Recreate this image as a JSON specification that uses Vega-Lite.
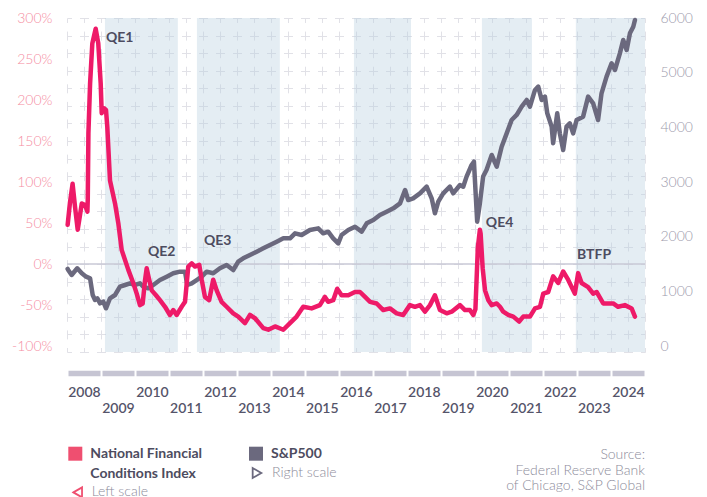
{
  "$schema": "https://vega.github.io/schema/vega-lite/v6.json",
  "width": 578,
  "height": 334,
  "autosize": {"type": "none"},
  "padding": {"left": 67, "top": 18, "right": 62, "bottom": 145},
  "background": "#ffffff",
  "config": {
    "view": {"stroke": null},
    "font": "Lato",
    "legend": {"padding": 0, "labelFont": "Lato", "labelFontSize": 14, "symbolOpacity": 1, "labelLimit": 300}
  },
  "title": {
    "text": ["Source:", "Federal Reserve Bank", "of Chicago, S&P Global"],
    "orient": "top", "anchor": "end", "frame": "group", "align": "right", "baseline": "top",
    "offset": -482, "font": "Lato", "fontSize": 14, "fontWeight": 300,
    "color": "#8c8b9a", "lineHeight": 15.3
  },
  "datasets": {
    "qe": [
      {"start": "2009-02-12", "end": "2011-04-06"},
      {"start": "2011-10-28", "end": "2014-04-06"},
      {"start": "2016-06-10", "end": "2018-02-13"},
      {"start": "2020-03-16", "end": "2021-09-04"},
      {"start": "2022-12-20", "end": "2025-01-01"}
    ],
    "notes": [
      {"date": "2009-02-23", "v": 276, "label": "QE1"},
      {"date": "2010-05-20", "v": 15, "label": "QE2"},
      {"date": "2012-01-11", "v": 28.5, "label": "QE3"},
      {"date": "2020-04-27", "v": 49.7, "label": "QE4"},
      {"date": "2023-01-01", "v": 11, "label": "BTFP"}
    ],
    "nfci": [
      {"date": "2008-01-08", "v": 48}, {"date": "2008-02-02", "v": 75}, {"date": "2008-03-01", "v": 98},
      {"date": "2008-03-27", "v": 70}, {"date": "2008-04-25", "v": 42}, {"date": "2008-05-20", "v": 60},
      {"date": "2008-06-08", "v": 74}, {"date": "2008-07-13", "v": 72}, {"date": "2008-08-07", "v": 64},
      {"date": "2008-08-11", "v": 78}, {"date": "2008-08-18", "v": 159}, {"date": "2008-09-05", "v": 220},
      {"date": "2008-09-29", "v": 269}, {"date": "2008-11-04", "v": 287}, {"date": "2008-12-02", "v": 269},
      {"date": "2008-12-28", "v": 220}, {"date": "2009-01-08", "v": 184}, {"date": "2009-02-02", "v": 190},
      {"date": "2009-02-23", "v": 188}, {"date": "2009-03-09", "v": 167}, {"date": "2009-04-07", "v": 102},
      {"date": "2009-05-31", "v": 74}, {"date": "2009-07-05", "v": 50}, {"date": "2009-08-11", "v": 17},
      {"date": "2009-10-21", "v": -7}, {"date": "2009-12-13", "v": -23}, {"date": "2010-01-19", "v": -36},
      {"date": "2010-02-23", "v": -50}, {"date": "2010-03-24", "v": -48}, {"date": "2010-04-18", "v": -20},
      {"date": "2010-05-06", "v": -5}, {"date": "2010-05-25", "v": -15}, {"date": "2010-06-29", "v": -32},
      {"date": "2010-08-14", "v": -38}, {"date": "2010-09-26", "v": -44}, {"date": "2010-11-19", "v": -52},
      {"date": "2011-01-11", "v": -62}, {"date": "2011-02-16", "v": -56}, {"date": "2011-03-24", "v": -62},
      {"date": "2011-05-17", "v": -52}, {"date": "2011-06-22", "v": -46}, {"date": "2011-07-27", "v": -3},
      {"date": "2011-09-02", "v": 1}, {"date": "2011-10-07", "v": -3}, {"date": "2011-11-22", "v": -1},
      {"date": "2011-12-18", "v": -19}, {"date": "2012-01-22", "v": -40}, {"date": "2012-03-07", "v": -44},
      {"date": "2012-04-20", "v": -19}, {"date": "2012-05-27", "v": -32}, {"date": "2012-07-19", "v": -46},
      {"date": "2012-09-11", "v": -52}, {"date": "2012-11-21", "v": -60}, {"date": "2013-01-14", "v": -64},
      {"date": "2013-03-27", "v": -72}, {"date": "2013-05-20", "v": -62}, {"date": "2013-07-13", "v": -66},
      {"date": "2013-10-10", "v": -78}, {"date": "2013-12-03", "v": -80}, {"date": "2014-02-13", "v": -76},
      {"date": "2014-05-13", "v": -80}, {"date": "2014-07-24", "v": -72}, {"date": "2014-10-03", "v": -64},
      {"date": "2014-12-13", "v": -52}, {"date": "2015-03-13", "v": -54}, {"date": "2015-06-10", "v": -50},
      {"date": "2015-08-03", "v": -40}, {"date": "2015-09-07", "v": -46}, {"date": "2015-10-31", "v": -44},
      {"date": "2015-12-13", "v": -30}, {"date": "2016-01-29", "v": -38}, {"date": "2016-04-10", "v": -38},
      {"date": "2016-06-21", "v": -34}, {"date": "2016-08-14", "v": -34}, {"date": "2016-10-07", "v": -40},
      {"date": "2016-11-30", "v": -46}, {"date": "2017-02-09", "v": -48}, {"date": "2017-04-21", "v": -56},
      {"date": "2017-07-02", "v": -54}, {"date": "2017-09-12", "v": -60}, {"date": "2017-11-21", "v": -62},
      {"date": "2018-02-01", "v": -50}, {"date": "2018-03-27", "v": -52}, {"date": "2018-05-20", "v": -50},
      {"date": "2018-07-13", "v": -58}, {"date": "2018-09-05", "v": -50}, {"date": "2018-10-28", "v": -38},
      {"date": "2018-12-21", "v": -56}, {"date": "2019-03-03", "v": -60}, {"date": "2019-04-26", "v": -58},
      {"date": "2019-07-24", "v": -50}, {"date": "2019-09-16", "v": -56}, {"date": "2019-11-08", "v": -56},
      {"date": "2019-12-14", "v": -62}, {"date": "2020-01-06", "v": -55}, {"date": "2020-02-01", "v": 20},
      {"date": "2020-02-23", "v": 42}, {"date": "2020-03-02", "v": 37}, {"date": "2020-03-24", "v": -5},
      {"date": "2020-04-18", "v": -32}, {"date": "2020-05-24", "v": -44}, {"date": "2020-06-29", "v": -50},
      {"date": "2020-08-22", "v": -48}, {"date": "2020-09-26", "v": -52}, {"date": "2020-10-31", "v": -58},
      {"date": "2020-12-24", "v": -62}, {"date": "2021-02-16", "v": -64}, {"date": "2021-04-20", "v": -70},
      {"date": "2021-06-03", "v": -64}, {"date": "2021-08-14", "v": -64}, {"date": "2021-10-07", "v": -54},
      {"date": "2021-11-30", "v": -52}, {"date": "2022-01-04", "v": -36}, {"date": "2022-02-26", "v": -34},
      {"date": "2022-04-20", "v": -15}, {"date": "2022-06-13", "v": -23}, {"date": "2022-08-06", "v": -9},
      {"date": "2022-09-28", "v": -19}, {"date": "2022-12-09", "v": -36}, {"date": "2023-01-14", "v": -11},
      {"date": "2023-02-20", "v": -23}, {"date": "2023-05-01", "v": -28}, {"date": "2023-06-24", "v": -36},
      {"date": "2023-07-31", "v": -34}, {"date": "2023-10-10", "v": -48}, {"date": "2024-01-25", "v": -48},
      {"date": "2024-03-18", "v": -52}, {"date": "2024-05-30", "v": -50}, {"date": "2024-08-10", "v": -54},
      {"date": "2024-09-15", "v": -64}
    ],
    "sp": [
      {"date": "2008-01-08", "v": 1411}, {"date": "2008-01-14", "v": 1393}, {"date": "2008-02-20", "v": 1301},
      {"date": "2008-04-20", "v": 1423}, {"date": "2008-06-08", "v": 1332}, {"date": "2008-07-24", "v": 1270},
      {"date": "2008-09-05", "v": 1240}, {"date": "2008-10-03", "v": 935}, {"date": "2008-10-28", "v": 844},
      {"date": "2008-11-22", "v": 875}, {"date": "2008-12-21", "v": 783}, {"date": "2009-01-25", "v": 813},
      {"date": "2009-02-23", "v": 692}, {"date": "2009-04-07", "v": 875}, {"date": "2009-05-31", "v": 935},
      {"date": "2009-07-23", "v": 1087}, {"date": "2009-09-15", "v": 1118}, {"date": "2009-11-08", "v": 1149},
      {"date": "2010-01-01", "v": 1118}, {"date": "2010-02-23", "v": 1149}, {"date": "2010-03-30", "v": 1087},
      {"date": "2010-05-23", "v": 1057}, {"date": "2010-07-16", "v": 1118}, {"date": "2010-09-26", "v": 1209},
      {"date": "2010-12-07", "v": 1270}, {"date": "2011-02-16", "v": 1332}, {"date": "2011-04-28", "v": 1362},
      {"date": "2011-06-22", "v": 1362}, {"date": "2011-07-16", "v": 1118}, {"date": "2011-09-02", "v": 1149},
      {"date": "2011-10-25", "v": 1209}, {"date": "2011-12-18", "v": 1270}, {"date": "2012-02-09", "v": 1362},
      {"date": "2012-04-20", "v": 1332}, {"date": "2012-07-01", "v": 1423}, {"date": "2012-09-11", "v": 1484},
      {"date": "2012-11-21", "v": 1392}, {"date": "2013-01-14", "v": 1545}, {"date": "2013-03-08", "v": 1606},
      {"date": "2013-05-20", "v": 1667}, {"date": "2013-07-31", "v": 1727}, {"date": "2013-10-10", "v": 1788},
      {"date": "2013-12-21", "v": 1849}, {"date": "2014-03-03", "v": 1910}, {"date": "2014-05-13", "v": 1971},
      {"date": "2014-07-24", "v": 1971}, {"date": "2014-09-16", "v": 2063}, {"date": "2014-11-26", "v": 2032},
      {"date": "2015-02-23", "v": 2124}, {"date": "2015-05-23", "v": 2154}, {"date": "2015-07-16", "v": 2063},
      {"date": "2015-09-07", "v": 2093}, {"date": "2015-10-31", "v": 1971}, {"date": "2015-12-24", "v": 1880},
      {"date": "2016-01-29", "v": 2032}, {"date": "2016-04-10", "v": 2124}, {"date": "2016-06-21", "v": 2184},
      {"date": "2016-09-01", "v": 2093}, {"date": "2016-10-25", "v": 2246}, {"date": "2017-01-04", "v": 2306},
      {"date": "2017-03-16", "v": 2398}, {"date": "2017-05-27", "v": 2459}, {"date": "2017-08-07", "v": 2520},
      {"date": "2017-10-18", "v": 2611}, {"date": "2017-12-11", "v": 2855}, {"date": "2018-01-14", "v": 2672},
      {"date": "2018-03-08", "v": 2703}, {"date": "2018-05-20", "v": 2794}, {"date": "2018-07-31", "v": 2916},
      {"date": "2018-09-23", "v": 2703}, {"date": "2018-10-28", "v": 2429}, {"date": "2018-12-03", "v": 2641},
      {"date": "2019-01-25", "v": 2794}, {"date": "2019-04-07", "v": 2916}, {"date": "2019-05-12", "v": 2794},
      {"date": "2019-07-24", "v": 2947}, {"date": "2019-08-28", "v": 2916}, {"date": "2019-10-03", "v": 3099},
      {"date": "2019-11-26", "v": 3312}, {"date": "2019-12-21", "v": 3373}, {"date": "2020-01-25", "v": 2276},
      {"date": "2020-02-23", "v": 2611}, {"date": "2020-03-29", "v": 3100}, {"date": "2020-05-04", "v": 3221},
      {"date": "2020-06-29", "v": 3495}, {"date": "2020-08-22", "v": 3282}, {"date": "2020-10-14", "v": 3647},
      {"date": "2020-12-07", "v": 3891}, {"date": "2021-01-29", "v": 4135}, {"date": "2021-03-24", "v": 4227},
      {"date": "2021-05-17", "v": 4379}, {"date": "2021-07-10", "v": 4501}, {"date": "2021-08-14", "v": 4379},
      {"date": "2021-10-07", "v": 4684}, {"date": "2021-11-11", "v": 4745}, {"date": "2021-12-18", "v": 4501},
      {"date": "2022-01-22", "v": 4562}, {"date": "2022-02-16", "v": 4257}, {"date": "2022-04-04", "v": 4013},
      {"date": "2022-04-20", "v": 3709}, {"date": "2022-06-03", "v": 4257}, {"date": "2022-07-01", "v": 3891},
      {"date": "2022-08-06", "v": 3586}, {"date": "2022-09-11", "v": 4013}, {"date": "2022-10-16", "v": 4074},
      {"date": "2022-11-21", "v": 3891}, {"date": "2022-12-28", "v": 4135}, {"date": "2023-03-08", "v": 4196},
      {"date": "2023-05-01", "v": 4562}, {"date": "2023-06-24", "v": 4440}, {"date": "2023-08-16", "v": 4135},
      {"date": "2023-09-22", "v": 4623}, {"date": "2023-11-15", "v": 4928}, {"date": "2024-01-08", "v": 5171},
      {"date": "2024-02-13", "v": 5049}, {"date": "2024-04-06", "v": 5354}, {"date": "2024-05-12", "v": 5597},
      {"date": "2024-06-18", "v": 5415}, {"date": "2024-07-23", "v": 5720}, {"date": "2024-08-28", "v": 5841},
      {"date": "2024-09-15", "v": 5963}
    ]
  },
  "layer": [
    {
      "data": {"name": "qe"},
      "mark": {"type": "rect", "color": "#b9cfdf", "opacity": 0.38},
      "encoding": {
        "x": {
          "field": "start", "type": "temporal",
          "scale": {"domain": [{"year": 2008, "month": 1, "date": 1, "utc": true}, {"year": 2025, "month": 1, "date": 1, "utc": true}]},
          "axis": {
            "orient": "bottom", "title": null,
            "values": [
              {"year": 2008, "month": 1, "date": 1, "utc": true}, {"year": 2008, "month": 7, "date": 1, "utc": true},
              {"year": 2009, "month": 1, "date": 1, "utc": true}, {"year": 2009, "month": 7, "date": 1, "utc": true},
              {"year": 2010, "month": 1, "date": 1, "utc": true}, {"year": 2010, "month": 7, "date": 1, "utc": true},
              {"year": 2011, "month": 1, "date": 1, "utc": true}, {"year": 2011, "month": 7, "date": 1, "utc": true},
              {"year": 2012, "month": 1, "date": 1, "utc": true}, {"year": 2012, "month": 7, "date": 1, "utc": true},
              {"year": 2013, "month": 1, "date": 1, "utc": true}, {"year": 2013, "month": 7, "date": 1, "utc": true},
              {"year": 2014, "month": 1, "date": 1, "utc": true}, {"year": 2014, "month": 7, "date": 1, "utc": true},
              {"year": 2015, "month": 1, "date": 1, "utc": true}, {"year": 2015, "month": 7, "date": 1, "utc": true},
              {"year": 2016, "month": 1, "date": 1, "utc": true}, {"year": 2016, "month": 7, "date": 1, "utc": true},
              {"year": 2017, "month": 1, "date": 1, "utc": true}, {"year": 2017, "month": 7, "date": 1, "utc": true},
              {"year": 2018, "month": 1, "date": 1, "utc": true}, {"year": 2018, "month": 7, "date": 1, "utc": true},
              {"year": 2019, "month": 1, "date": 1, "utc": true}, {"year": 2019, "month": 7, "date": 1, "utc": true},
              {"year": 2020, "month": 1, "date": 1, "utc": true}, {"year": 2020, "month": 7, "date": 1, "utc": true},
              {"year": 2021, "month": 1, "date": 1, "utc": true}, {"year": 2021, "month": 7, "date": 1, "utc": true},
              {"year": 2022, "month": 1, "date": 1, "utc": true}, {"year": 2022, "month": 7, "date": 1, "utc": true},
              {"year": 2023, "month": 1, "date": 1, "utc": true}, {"year": 2023, "month": 7, "date": 1, "utc": true},
              {"year": 2024, "month": 1, "date": 1, "utc": true}, {"year": 2024, "month": 7, "date": 1, "utc": true},
              {"year": 2025, "month": 1, "date": 1, "utc": true}
            ],
            "labels": false, "ticks": false,
            "domain": true, "domainColor": "#c6c5d3", "domainWidth": 5.5, "domainDash": [32, 2], "domainDashOffset": 33,
            "offset": 21,
            "grid": true, "gridColor": "#e1e1e7", "gridWidth": 1, "gridDash": [9, 8.579], "gridDashOffset": 4.5
          }
        },
        "x2": {"field": "end"}
      }
    },
    {
      "data": {"values": [{"v": 0}]},
      "mark": {"type": "rule", "color": "#c9c8d6", "strokeWidth": 1.5},
      "encoding": {
        "y": {
          "field": "v", "type": "quantitative",
          "scale": {"domain": [-107.142857, 300], "nice": false, "zero": false},
          "axis": {
            "orient": "left", "title": null,
            "values": [-100, -50, 0, 50, 100, 150, 200, 250, 300],
            "labelExpr": "datum.value + '%'",
            "grid": false, "ticks": false, "domain": false,
            "labelColor": "#f58da2", "labelFont": "Lato", "labelFontSize": 14, "labelFontWeight": 300, "labelPadding": 15
          }
        }
      }
    },
    {
      "data": {"name": "sp"},
      "mark": {"type": "line", "color": "#6b697e", "strokeWidth": 4.5, "strokeJoin": "round", "strokeCap": "round"},
      "encoding": {
        "x": {"field": "date", "type": "temporal", "axis": null},
        "y": {
          "field": "v", "type": "quantitative",
          "scale": {"domain": [-107.142857, 6000], "nice": false, "zero": false},
          "axis": {
            "orient": "right", "title": null,
            "values": [0, 1000, 2000, 3000, 4000, 5000, 6000],
            "format": "d",
            "grid": false, "ticks": false, "domain": false,
            "labelColor": "#9c9aac", "labelFont": "Lato", "labelFontSize": 14, "labelFontWeight": 300, "labelPadding": 15
          }
        }
      }
    },
    {
      "data": {"name": "nfci"},
      "mark": {"type": "line", "color": "#ee1a68", "strokeWidth": 4.5, "strokeJoin": "round", "strokeCap": "round"},
      "encoding": {
        "x": {
          "field": "date", "type": "temporal",
          "axis": {
            "orient": "bottom", "title": null,
            "values": [
              {"year": 2008, "month": 7, "date": 1, "utc": true}, {"year": 2009, "month": 7, "date": 1, "utc": true},
              {"year": 2010, "month": 7, "date": 1, "utc": true}, {"year": 2011, "month": 7, "date": 1, "utc": true},
              {"year": 2012, "month": 7, "date": 1, "utc": true}, {"year": 2013, "month": 7, "date": 1, "utc": true},
              {"year": 2014, "month": 7, "date": 1, "utc": true}, {"year": 2015, "month": 7, "date": 1, "utc": true},
              {"year": 2016, "month": 7, "date": 1, "utc": true}, {"year": 2017, "month": 7, "date": 1, "utc": true},
              {"year": 2018, "month": 7, "date": 1, "utc": true}, {"year": 2019, "month": 7, "date": 1, "utc": true},
              {"year": 2020, "month": 7, "date": 1, "utc": true}, {"year": 2021, "month": 7, "date": 1, "utc": true},
              {"year": 2022, "month": 7, "date": 1, "utc": true}, {"year": 2023, "month": 7, "date": 1, "utc": true},
              {"year": 2024, "month": 7, "date": 1, "utc": true}
            ],
            "format": "%Y",
            "labelOverlap": false, "labelFlush": false,
            "labelFont": "Lato", "labelFontSize": 14, "labelFontWeight": 600, "labelColor": "#55546a",
            "labelPadding": {"condition": {"test": "year(datum.value) % 2 == 1", "value": 28}, "value": 12},
            "ticks": false, "domain": false, "grid": false,
            "offset": 21
          }
        },
        "y": {
          "field": "v", "type": "quantitative",
          "scale": {"domain": [-107.142857, 300], "nice": false, "zero": false},
          "axis": {
            "orient": "left", "title": null,
            "values": [300, 278.5714, 257.1429, 235.7143, 214.2857, 192.8571, 171.4286, 150, 128.5714, 107.1429, 85.7143, 64.2857, 42.8571, 21.4286, 0, -21.4286, -42.8571, -64.2857, -85.7143, -107.1428],
            "labels": false, "ticks": false, "domain": false,
            "grid": true, "gridColor": "#e1e1e7", "gridWidth": 1, "gridDash": [9, 8], "gridDashOffset": 4.5
          }
        }
      }
    },
    {
      "data": {"name": "notes"},
      "mark": {"type": "text", "align": "left", "baseline": "middle", "font": "Lato", "fontSize": 14, "fontWeight": 700, "color": "#4d4c60"},
      "encoding": {
        "x": {"field": "date", "type": "temporal", "axis": null},
        "y": {"field": "v", "type": "quantitative", "scale": {"domain": [-107.142857, 300], "nice": false, "zero": false}, "axis": null},
        "text": {"field": "label"}
      }
    },
    {
      "data": {"values": [{"k": "National Financial"}]},
      "mark": {"type": "point", "filled": true, "color": "#ef4f70", "opacity": 0},
      "encoding": {
        "shape": {
          "field": "k", "type": "nominal", "scale": {"range": ["square"]},
          "legend": {"title": null, "orient": "none", "legendX": 1.3, "legendY": 428.7, "symbolSize": 196,
            "symbolOpacity": 1, "symbolStrokeWidth": 0,
            "labelFontWeight": 700, "labelColor": "#4d4c60", "labelOffset": 8}
        }
      }
    },
    {
      "data": {"values": [{"k": "Conditions Index"}]},
      "mark": {"type": "point", "filled": true, "color": "#ef4f70", "opacity": 0},
      "encoding": {
        "shape": {
          "field": "k", "type": "nominal", "scale": {"range": ["square"]},
          "legend": {"title": null, "orient": "none", "legendX": 1.3, "legendY": 448.6, "symbolSize": 196,
            "symbolOpacity": 0, "symbolStrokeWidth": 0,
            "labelFontWeight": 700, "labelColor": "#4d4c60", "labelOffset": 8}
        }
      }
    },
    {
      "data": {"values": [{"k": "S&P500"}]},
      "mark": {"type": "point", "filled": true, "color": "#6b697e", "opacity": 0},
      "encoding": {
        "shape": {
          "field": "k", "type": "nominal", "scale": {"range": ["square"]},
          "legend": {"title": null, "orient": "none", "legendX": 182, "legendY": 428.7, "symbolSize": 196,
            "symbolOpacity": 1, "symbolStrokeWidth": 0,
            "labelFontWeight": 700, "labelColor": "#4d4c60", "labelOffset": 8}
        }
      }
    },
    {
      "data": {"values": [{"k": "Left scale"}]},
      "mark": {"type": "point", "filled": false, "color": "#ef4f70", "opacity": 0, "strokeWidth": 1.8},
      "encoding": {
        "shape": {
          "field": "k", "type": "nominal", "scale": {"range": ["triangle-left"]},
          "legend": {"title": null, "orient": "none", "legendX": 3.7, "legendY": 467.4, "symbolSize": 100,
            "symbolOpacity": 1, "symbolStrokeWidth": 1.8,
            "labelFontWeight": 300, "labelColor": "#8c8b9a", "labelOffset": 7}
        }
      }
    },
    {
      "data": {"values": [{"k": "Right scale"}]},
      "mark": {"type": "point", "filled": false, "color": "#6b697e", "opacity": 0, "strokeWidth": 1.8},
      "encoding": {
        "shape": {
          "field": "k", "type": "nominal", "scale": {"range": ["triangle-right"]},
          "legend": {"title": null, "orient": "none", "legendX": 183, "legendY": 448, "symbolSize": 100,
            "symbolOpacity": 1, "symbolStrokeWidth": 1.8,
            "labelFontWeight": 300, "labelColor": "#8c8b9a", "labelOffset": 8}
        }
      }
    }
  ],
  "resolve": {"scale": {"y": "independent", "shape": "independent"}, "axis": {"x": "independent"}}
}
